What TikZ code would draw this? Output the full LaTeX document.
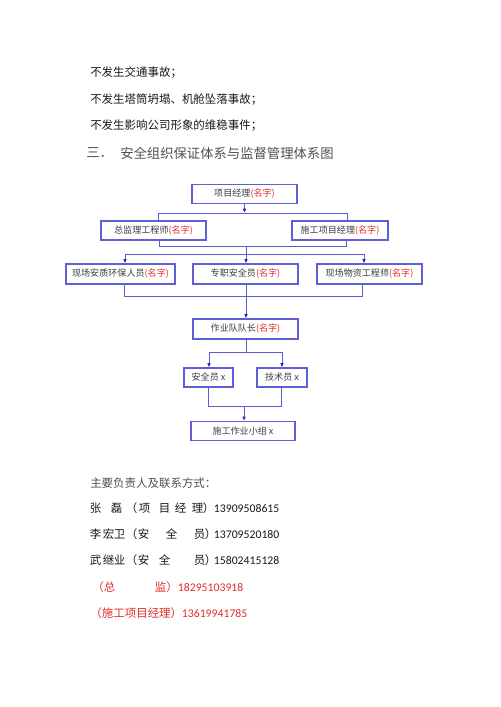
\documentclass[tikz,border=0pt]{standalone}
\usepackage{fontspec}
\setmainfont{Noto Sans CJK SC}
\newfontfamily\digitfont{Carlito}
\usetikzlibrary{arrows.meta}
\definecolor{boxblue}{RGB}{95,95,215}
\definecolor{lineblue}{RGB}{90,90,220}
\definecolor{tipblue}{RGB}{40,40,190}
\definecolor{redtxt}{RGB}{225,45,45}
\definecolor{bodytxt}{RGB}{25,25,25}
\definecolor{boxtxt}{RGB}{60,60,60}
\definecolor{graytxt}{RGB}{80,80,80}
\newdimen\pxu \pxu=0.75pt
\newcommand\atx[2]{\makebox[0pt][l]{\hspace*{#1\pxu}#2}}
\newcommand\nm{\textcolor{redtxt}{(名字)}}
\begin{document}
\begin{tikzpicture}[x=0.75pt,y=-0.75pt,
  orgbox/.style={draw=boxblue, line width=0.9pt, fill=white, inner sep=0pt,
    minimum width=#1*0.75pt, minimum height=19*0.75pt, text=boxtxt,
    font=\fontsize{6.8pt}{8pt}\selectfont},
  conn/.style={draw=lineblue, line width=0.75pt},
  arr/.style={conn, -{Latex[length=3.2pt,width=2.8pt,color=tipblue]}},
  bodytext/.style={anchor=west, inner sep=0pt, text=bodytxt, font=\fontsize{8.6pt}{10pt}\selectfont},
  headtext/.style={anchor=west, inner sep=0pt, text=graytxt, font=\fontsize{10pt}{12pt}\selectfont},
  contact/.style={anchor=west, inner sep=0pt, text=bodytxt, font=\fontsize{8.6pt}{10pt}\selectfont},
  redcontact/.style={contact, text=redtxt}]
\useasboundingbox[fill=white] (0,0) rectangle (500,707);

% top text
\node[bodytext] (t1) at (90,73) {不发生交通事故；};
\node[bodytext] (t2) at (90,100) {不发生塔筒坍塌、机舱坠落事故；};
\node[bodytext] (t3) at (90,126) {不发生影响公司形象的维稳事件；};
\node[headtext] (h0) at (86,153) {三．};
\node[headtext] (h1) at (120,153) {安全组织保证体系与监督管理体系图};

% boxes
\node[orgbox=105] (pm) at (244.5,194) {项目经理\nm};
\node[orgbox=105] (zj) at (153.5,230.5) {总监理工程师\nm};
\node[orgbox=96]  (sg) at (340,230.5) {施工项目经理\nm};
\node[orgbox=109, minimum height=20*0.75pt] (xc) at (120.5,274) {现场安质环保人员\nm};
\node[orgbox=105, minimum height=20*0.75pt] (zz) at (245.5,274) {专职安全员\nm};
\node[orgbox=105, minimum height=20*0.75pt] (wz) at (369.5,274) {现场物资工程师\nm};
\node[orgbox=105, minimum height=20*0.75pt] (zy) at (245.5,329) {作业队队长\nm};
\node[orgbox=49]  (aq) at (208.5,377.5) {安全员 x};
\node[orgbox=50]  (js) at (282,377.5) {技术员 x};
\node[orgbox=104] (xz) at (243,431) {施工作业小组 x};

% connectors
\coordinate (h1L) at (158,213);
\coordinate (h1R) at (347,213);
\draw[arr] (pm.south) -- (pm.south |- h1L);
\draw[conn] (h1L |- zj.north) -- (h1L) -- (h1R) -- (h1R |- sg.north);

\coordinate (u1L) at (159,246);
\coordinate (u1R) at (346,246);
\coordinate (u1M) at (246,246);
\draw[conn] (u1L |- zj.south) -- (u1L) -- (u1R) -- (u1R |- sg.south);

\coordinate (h2L) at (125,254);
\coordinate (h2M) at (246,254);
\coordinate (h2R) at (364,254);
\draw[conn] (u1M) -- (h2M);
\draw[conn] (h2L) -- (h2R);
\draw[arr] (h2L) -- (h2L |- xc.north);
\draw[arr] (h2M) -- (h2M |- zz.north);
\draw[arr] (h2R) -- (h2R |- wz.north);

\coordinate (b3L) at (124,296);
\coordinate (b3M) at (246,296);
\coordinate (b3R) at (362,296);
\draw[conn] (b3L |- xc.south) -- (b3L) -- (b3R) -- (b3R |- wz.south);
\draw[arr] (b3M |- zz.south) -- (b3M |- zy.north);

\coordinate (h4L) at (209,352);
\coordinate (h4M) at (246,352);
\coordinate (h4R) at (282,352);
\draw[conn] (h4M |- zy.south) -- (h4M);
\draw[conn] (h4L) -- (h4R);
\draw[arr] (h4L) -- (h4L |- aq.north);
\draw[arr] (h4R) -- (h4R |- js.north);

\coordinate (b5L) at (208,406);
\coordinate (b5M) at (244,406);
\coordinate (b5R) at (281,406);
\draw[conn] (b5L |- aq.south) -- (b5L) -- (b5R) -- (b5R |- js.south);
\draw[arr] (b5M) -- (b5M |- xz.north);

% contacts
\node[contact, text=graytxt] (c0) at (90,483) {主要负责人及联系方式：};
\node[contact] (c1) at (89,508) {\atx{0}{张}\atx{21}{磊}\atx{36}{（}\atx{49}{项}\atx{69}{目}\atx{85}{经}\atx{102}{理}\atx{113}{）}\atx{124}{\digitfont\fontsize{8.8pt}{10pt}\selectfont 13909508615}};
\node[contact] (c2) at (89,534) {\atx{0}{李}\atx{13}{宏}\atx{24}{卫}\atx{36}{（}\atx{48}{安}\atx{76}{全}\atx{104}{员}\atx{115}{）}\atx{124}{\digitfont\fontsize{8.8pt}{10pt}\selectfont 13709520180}};
\node[contact] (c3) at (89,560) {\atx{0}{武}\atx{13}{继}\atx{24}{业}\atx{36}{（}\atx{48}{安}\atx{69}{全}\atx{104}{员}\atx{115}{）}\atx{124}{\digitfont\fontsize{8.8pt}{10pt}\selectfont 15802415128}};
\node[redcontact] (c4) at (89,587) {\atx{2.5}{（}\atx{14}{总}\atx{65}{监}\atx{76.5}{）}\atx{88}{\digitfont\fontsize{8.8pt}{10pt}\selectfont 18295103918}};
\node[redcontact] (c5) at (89,613) {\atx{0.5}{（施工项目经理）}\atx{92}{\digitfont\fontsize{8.8pt}{10pt}\selectfont 13619941785}};
\end{tikzpicture}
\end{document}
